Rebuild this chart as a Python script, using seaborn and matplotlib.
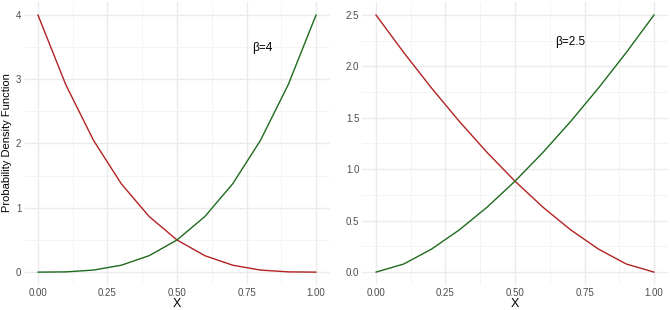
import matplotlib
matplotlib.use("Agg")
import matplotlib.pyplot as plt
from matplotlib.ticker import MultipleLocator
import numpy as np
import pandas as pd
import seaborn as sns

# valores
x = [0.0, 0.1, 0.2, 0.3, 0.4, 0.5, 0.6, 0.7, 0.8, 0.9, 1.0]
dec_b4 = [4.0, 2.916, 2.048, 1.372, 0.864, 0.5, 0.256, 0.108, 0.032, 0.004, 0.0]
inc_b4 = [0.0, 0.004, 0.032, 0.108, 0.256, 0.5, 0.864, 1.372, 2.048, 2.916, 4.0]
dec_b25 = [2.5, 2.134, 1.789, 1.464, 1.162, 0.884, 0.632, 0.411, 0.224, 0.079, 0.0]
inc_b25 = [0.0, 0.079, 0.224, 0.411, 0.632, 0.884, 1.162, 1.464, 1.789, 2.134, 2.5]
labels = ["\u03b2=4", "\u03b2=2.5"]

sns.set_theme(style="whitegrid")
plt.rcParams['font.family'] = ['Liberation Sans', 'DejaVu Sans']

fig = plt.figure(figsize=(6.7, 3.1), dpi=100)
ax1 = fig.add_axes([24/670, 25/310, 306/670, 283/310])
ax2 = fig.add_axes([362/670, 25/310, 306/670, 283/310])

panels = [
    (ax1, dec_b4, inc_b4, labels[0], (0.806, 3.48), 1, 0.5),
    (ax2, dec_b25, inc_b25, labels[1], (0.70, 2.24), 0.5, 0.25),
]

for ax, dec, inc, lab, pos, major, minor in panels:
    df = pd.DataFrame({"X": x * 2, "y": dec + inc,
                       "curva": ["dec"] * len(x) + ["inc"] * len(x)})
    sns.lineplot(data=df, x="X", y="y", hue="curva",
                 palette={"dec": "#B22222", "inc": "#1E6B1E"},
                 linewidth=1.0, legend=False, ax=ax)
    top = max(dec)
    ax.set_xlim(-0.05, 1.05)
    ax.set_ylim(-0.05 * top, 1.05 * top)
    ax.xaxis.set_minor_locator(MultipleLocator(0.125))
    ax.yaxis.set_minor_locator(MultipleLocator(minor))
    ax.set_xticks([0, 0.25, 0.5, 0.75, 1.0])
    ax.set_xticklabels(["0.00", "0.25", "0.50", "0.75", "1.00"])
    if major == 1:
        ax.set_yticks([0, 1, 2, 3, 4])
        ax.set_yticklabels(["0", "1", "2", "3", "4"])
    else:
        ax.set_yticks([0, 0.5, 1.0, 1.5, 2.0, 2.5])
        ax.set_yticklabels(["0.0", "0.5", "1.0", "1.5", "2.0", "2.5"])
    ax.grid(which="major", color="#EBEBEB", linewidth=1.0)
    ax.grid(which="minor", color="#F3F3F3", linewidth=0.6)
    for s in ax.spines.values():
        s.set_visible(False)
    ax.tick_params(which="both", length=0, labelsize=7, colors="#4D4D4D", pad=2)
    ax.set_xlabel("X", fontsize=9, color="black", labelpad=0)
    ax.set_ylabel("")
    ax.text(pos[0], pos[1], lab, fontsize=8.5, ha="center", va="center", color="black")
    ax.set_facecolor("white")

fig.text(7/670, 0.54, "Probability Density Function", fontsize=8,
         rotation=90, ha="center", va="center", color="black")

plt.savefig("out.png", dpi=100)
